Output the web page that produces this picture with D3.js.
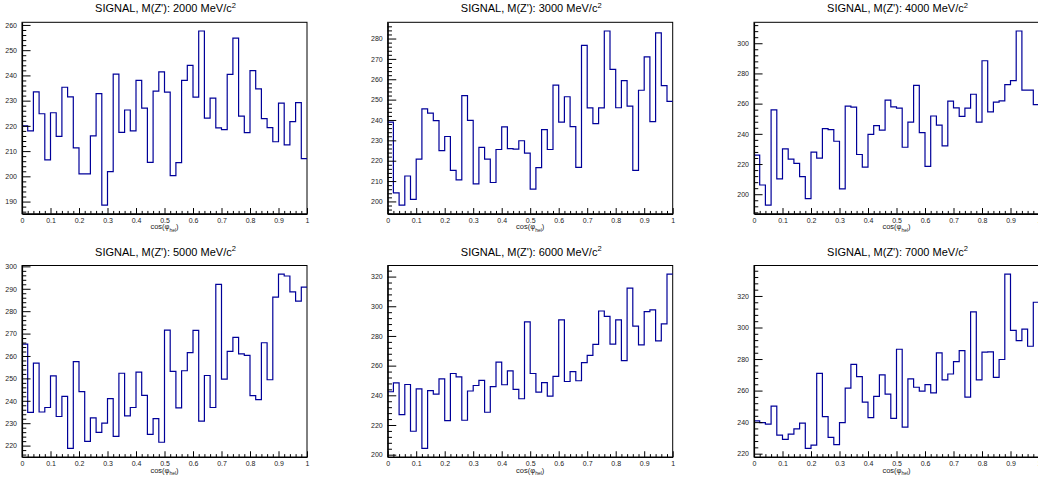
<!DOCTYPE html>
<html>
<head>
<meta charset="utf-8">
<script src="https://cdn.jsdelivr.net/npm/d3@7"></script>
<style>
  body { margin: 0; background: #fff; }
  svg { display: block; }
  text { font-family: "Liberation Sans", Arial, Helvetica, sans-serif; }
</style>
</head>
<body>
<svg id="canvas" width="1038" height="485"></svg>
<script>
// Z' masses (MeV/c^2), one histogram per mass point
const masses = [2000, 3000, 4000, 5000, 6000, 7000];

// Bin contents, 50 bins of cos(phi_hel) over [0, 1]
const signal2000 = [220, 218, 233.5, 224.8, 206.5, 225.2, 215.8, 235.3, 231.5, 211.3,
  201, 201, 216, 232.8, 188.6, 201.9, 240.5, 217.4, 226.3, 218,
  238, 227, 205.5, 233.8, 241.4, 233.4, 200.3, 205.4, 238, 244,
  231.4, 257.6, 223.1, 231, 219.2, 218.5, 240.4, 254.8, 223.9, 217.3,
  241.9, 234.7, 222.9, 219.3, 213.7, 229, 212.5, 221.7, 229.2, 207];
const signal3000 = [238.9, 204.2, 198.2, 212.5, 201, 220.8, 245.5, 243.4, 239.7, 225,
  231.9, 215.3, 210.6, 252, 239.8, 208.6, 226.5, 220.8, 209.3, 225.5,
  236.6, 225.9, 225.7, 229.8, 223.7, 206, 216.6, 235.3, 225.5, 257.1,
  238.9, 251.4, 236.7, 216.7, 276.6, 245.9, 238.2, 245.9, 283.7, 264.9,
  246, 259.3, 246.8, 215.3, 254.6, 271, 239.2, 282.8, 256.9, 249.1];
const signal4000 = [225.9, 206.1, 192.8, 255.9, 210.1, 230, 223.2, 220.4, 211.6, 197.1,
  227.9, 223.9, 243.4, 242.8, 235.1, 203.5, 258.3, 257.7, 226.3, 218,
  239.7, 245.4, 242.5, 262.3, 257.9, 257, 231.1, 247.8, 272.1, 240.8,
  218.4, 251.8, 245.8, 232, 261.6, 257.2, 251.5, 257, 266.2, 247.8,
  288.4, 254.6, 261, 261.8, 272.6, 275.2, 308.1, 268.9, 268.9, 259.4];
const signal5000 = [265.3, 234.8, 256.8, 235, 237, 251.1, 233, 242, 218.8, 257.5,
  244.1, 221.9, 232.4, 225.9, 230, 241, 224.1, 252.3, 233.3, 237,
  252.8, 242.4, 225, 232, 221.5, 271.5, 253.1, 236.8, 253.4, 261.5,
  271.4, 230.9, 251.3, 237, 292, 249.7, 262.1, 268.3, 260.9, 260.3,
  242.3, 240.5, 265.9, 249.4, 286.3, 296.5, 295.7, 288.6, 284.5, 290.7];
const signal6000 = [242.4, 248.4, 227, 247.3, 215.8, 244.4, 204.3, 243.1, 240.8, 251.1,
  223, 254.7, 252.4, 223.2, 242.9, 246.6, 250, 228.6, 245.8, 262.3,
  247.1, 256.5, 244, 237.7, 289.5, 254.7, 242.2, 248.6, 239.5, 252.7,
  290.8, 249.3, 256, 249.8, 262, 266.9, 274.3, 296.8, 293.2, 274.5,
  290.8, 263.4, 312.2, 286.6, 274, 296.4, 297.5, 276.7, 288.1, 321.6];
const signal7000 = [240.8, 239.7, 238.7, 250.2, 231.7, 229, 232.4, 235.7, 239.3, 223.4,
  225.4, 270.9, 243.5, 230.3, 225.7, 239.7, 261.5, 276.6, 268.8, 252.7,
  242.9, 256.3, 269.9, 257.7, 242.4, 286.2, 236.8, 267.4, 262.1, 259.6,
  263.8, 258.6, 283.9, 266.8, 270.5, 278.3, 285.4, 255.8, 309.9, 266.8,
  284.4, 284.6, 268.4, 279.7, 333.8, 298.2, 291.7, 299, 288.1, 316];
const allSeries = [signal2000, signal3000, signal4000, signal5000, signal6000, signal7000];

// Axis tick values and labels
const xMajorTicks = [0, 0.1, 0.2, 0.3, 0.4, 0.5, 0.6, 0.7, 0.8, 0.9, 1];
const xTickLabels = ["0", "0.1", "0.2", "0.3", "0.4", "0.5", "0.6", "0.7", "0.8", "0.9", "1"];
const yMajorStep = [10, 10, 20, 10, 20, 20];
const yMinorStep = [2, 2, 4, 2, 4, 4];

// Pad geometry (3 columns x 2 rows)
const colX = [22, 387.7, 754];
const rowY = [22.3, 265.5];
const plotW = 285, plotH = 191.5;
const lineColor = "#000099";
const FONT = '"Liberation Sans", Arial, Helvetica, sans-serif';

const svg = d3.select("#canvas");
svg.append("rect").attr("width", 1038).attr("height", 485).attr("fill", "#fff");

allSeries.forEach((vals, k) => {
  const x0 = colX[k % 3], y0 = rowY[Math.floor(k / 3)];
  const nBins = vals.length;
  const edges = d3.range(nBins + 1).map(i => i / nBins);

  // Histogram y range: content extremes padded by 5%
  const [vmin, vmax] = d3.extent(vals);
  const pad = 0.05 * (vmax - vmin);
  const lo = vmin - pad, hi = vmax + pad;
  const x = d3.scaleLinear().domain([0, 1]).range([x0, x0 + plotW]);
  const y = d3.scaleLinear().domain([lo, hi]).range([y0 + plotH, y0]);

  const g = svg.append("g");

  // Frame
  g.append("rect")
    .attr("x", x0).attr("y", y0).attr("width", plotW).attr("height", plotH)
    .attr("fill", "none").attr("stroke", "#000").attr("stroke-width", 1);

  // Histogram outline
  const pts = vals.map((v, i) => [edges[i], v]).concat([[1, vals[nBins - 1]]]);
  const step = d3.line().x(d => x(d[0])).y(d => y(d[1])).curve(d3.curveStepAfter);
  g.append("path").attr("d", step(pts))
    .attr("fill", "none").attr("stroke", lineColor).attr("stroke-width", 1.2);

  // X axis: major and minor ticks pointing into the frame
  const xMinor = d3.range(0, 1.0001, 0.02).filter(t => Math.abs(t * 10 - Math.round(t * 10)) > 1e-6);
  const xMinorAxis = d3.axisBottom(x).tickValues(xMinor).tickSize(-plotH * 0.015).tickSizeOuter(0).tickFormat("");
  g.append("g").attr("transform", `translate(0,${y0 + plotH})`).call(xMinorAxis)
    .call(a => a.select(".domain").remove());
  const xAxis = d3.axisBottom(x).tickValues(xMajorTicks).tickSize(-plotH * 0.03).tickSizeOuter(0)
    .tickPadding(4).tickFormat((d, i) => xTickLabels[i]);
  const gx = g.append("g").attr("transform", `translate(0,${y0 + plotH})`).call(xAxis);
  gx.select(".domain").attr("stroke-width", 1.2);
  gx.selectAll("text").attr("font-family", FONT).attr("font-size", 7).attr("fill", "#222");

  // Y axis
  const ms = yMajorStep[k], ns = yMinorStep[k];
  const yMajor = d3.range(Math.ceil(lo / ms) * ms, hi + 1e-9, ms);
  const yMinor = d3.range(Math.ceil(lo / ns) * ns, hi + 1e-9, ns).filter(t => t % ms !== 0);
  const yMinorAxis = d3.axisLeft(y).tickValues(yMinor).tickSize(-plotW * 0.015).tickSizeOuter(0).tickFormat("");
  g.append("g").attr("transform", `translate(${x0},0)`).call(yMinorAxis)
    .call(a => a.select(".domain").remove());
  const yAxis = d3.axisLeft(y).tickValues(yMajor).tickSize(-plotW * 0.03).tickSizeOuter(0)
    .tickPadding(5).tickFormat(d3.format("d"));
  const gy = g.append("g").attr("transform", `translate(${x0},0)`).call(yAxis);
  gy.select(".domain").attr("stroke-width", 1.2);
  gy.selectAll("text").attr("font-family", FONT).attr("font-size", 7).attr("fill", "#222");

  // Axis title
  const xt = g.append("text")
    .attr("x", x0 + plotW / 2).attr("y", y0 + plotH + 15.5)
    .attr("text-anchor", "middle").attr("font-size", 7.5).attr("fill", "#222");
  xt.append("tspan").text("cos(\u03c6");
  xt.append("tspan").attr("font-size", 5).attr("dy", 2.5).text("hel");
  xt.append("tspan").attr("dy", -2.5).text(")");

  // Pad title
  const tt = g.append("text")
    .attr("x", x0 + plotW / 2 + 1).attr("y", y0 - 10)
    .attr("text-anchor", "middle").attr("font-size", 11).attr("fill", "#000");
  tt.append("tspan").text(`SIGNAL, M(Z'): ${masses[k]} MeV/c`);
  tt.append("tspan").attr("font-size", 7.5).attr("dy", -4.5).text("2");
});
</script>
</body>
</html>
